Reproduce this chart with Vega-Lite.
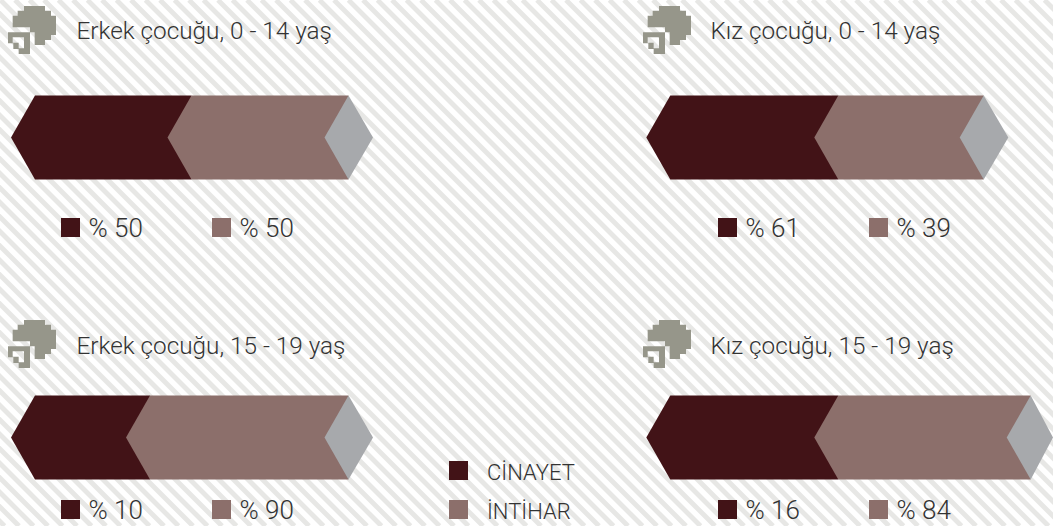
{"$schema":"https://vega.github.io/schema/vega-lite/v6.json","width":1053,"height":526,"autosize":{"type":"fit","contains":"padding"},"padding":0,"background":"#ffffff","view":{"stroke":null},
"datasets":{
"stripes":[{"top":-536,"bottom":-10},{"top":-521.5,"bottom":4.5},{"top":-507,"bottom":19},{"top":-492.5,"bottom":33.5},{"top":-478,"bottom":48},{"top":-463.5,"bottom":62.5},{"top":-449,"bottom":77},{"top":-434.5,"bottom":91.5},{"top":-420,"bottom":106},{"top":-405.5,"bottom":120.5},{"top":-391,"bottom":135},{"top":-376.5,"bottom":149.5},{"top":-362,"bottom":164},{"top":-347.5,"bottom":178.5},{"top":-333,"bottom":193},{"top":-318.5,"bottom":207.5},{"top":-304,"bottom":222},{"top":-289.5,"bottom":236.5},{"top":-275,"bottom":251},{"top":-260.5,"bottom":265.5},{"top":-246,"bottom":280},{"top":-231.5,"bottom":294.5},{"top":-217,"bottom":309},{"top":-202.5,"bottom":323.5},{"top":-188,"bottom":338},{"top":-173.5,"bottom":352.5},{"top":-159,"bottom":367},{"top":-144.5,"bottom":381.5},{"top":-130,"bottom":396},{"top":-115.5,"bottom":410.5},{"top":-101,"bottom":425},{"top":-86.5,"bottom":439.5},{"top":-72,"bottom":454},{"top":-57.5,"bottom":468.5},{"top":-43,"bottom":483},{"top":-28.5,"bottom":497.5},{"top":-14,"bottom":512},{"top":0.5,"bottom":526.5},{"top":15,"bottom":541},{"top":29.5,"bottom":555.5},{"top":44,"bottom":570},{"top":58.5,"bottom":584.5},{"top":73,"bottom":599},{"top":87.5,"bottom":613.5},{"top":102,"bottom":628},{"top":116.5,"bottom":642.5},{"top":131,"bottom":657},{"top":145.5,"bottom":671.5},{"top":160,"bottom":686},{"top":174.5,"bottom":700.5},{"top":189,"bottom":715},{"top":203.5,"bottom":729.5},{"top":218,"bottom":744},{"top":232.5,"bottom":758.5},{"top":247,"bottom":773},{"top":261.5,"bottom":787.5},{"top":276,"bottom":802},{"top":290.5,"bottom":816.5},{"top":305,"bottom":831},{"top":319.5,"bottom":845.5},{"top":334,"bottom":860},{"top":348.5,"bottom":874.5},{"top":363,"bottom":889},{"top":377.5,"bottom":903.5},{"top":392,"bottom":918},{"top":406.5,"bottom":932.5},{"top":421,"bottom":947},{"top":435.5,"bottom":961.5},{"top":450,"bottom":976},{"top":464.5,"bottom":990.5},{"top":479,"bottom":1005},{"top":493.5,"bottom":1019.5},{"top":508,"bottom":1034},{"top":522.5,"bottom":1048.5},{"top":537,"bottom":1063},{"top":551.5,"bottom":1077.5},{"top":566,"bottom":1092},{"top":580.5,"bottom":1106.5},{"top":595,"bottom":1121},{"top":609.5,"bottom":1135.5},{"top":624,"bottom":1150},{"top":638.5,"bottom":1164.5},{"top":653,"bottom":1179},{"top":667.5,"bottom":1193.5},{"top":682,"bottom":1208},{"top":696.5,"bottom":1222.5},{"top":711,"bottom":1237},{"top":725.5,"bottom":1251.5},{"top":740,"bottom":1266},{"top":754.5,"bottom":1280.5},{"top":769,"bottom":1295},{"top":783.5,"bottom":1309.5},{"top":798,"bottom":1324},{"top":812.5,"bottom":1338.5},{"top":827,"bottom":1353},{"top":841.5,"bottom":1367.5},{"top":856,"bottom":1382},{"top":870.5,"bottom":1396.5},{"top":885,"bottom":1411},{"top":899.5,"bottom":1425.5},{"top":914,"bottom":1440},{"top":928.5,"bottom":1454.5},{"top":943,"bottom":1469},{"top":957.5,"bottom":1483.5},{"top":972,"bottom":1498},{"top":986.5,"bottom":1512.5},{"top":1001,"bottom":1527},{"top":1015.5,"bottom":1541.5},{"top":1030,"bottom":1556},{"top":1044.5,"bottom":1570.5}],
"chevrons":[
{"panel":"Erkek 0-14","segment":"CİNAYET","at":11,"low":137.5,"high":137.5},{"panel":"Erkek 0-14","segment":"CİNAYET","at":35,"low":95.5,"high":179.5},{"panel":"Erkek 0-14","segment":"CİNAYET","at":191.5,"low":95.5,"high":179.5},
{"panel":"Erkek 0-14","segment":"İNTİHAR","at":167.5,"low":137.5,"high":137.5},{"panel":"Erkek 0-14","segment":"İNTİHAR","at":191.5,"low":95.5,"high":179.5},{"panel":"Erkek 0-14","segment":"İNTİHAR","at":348.5,"low":95.5,"high":179.5},
{"panel":"Erkek 0-14","segment":"Kalan","at":324.5,"low":137.5,"high":137.5},{"panel":"Erkek 0-14","segment":"Kalan","at":348.5,"low":95.5,"high":179.5},{"panel":"Erkek 0-14","segment":"Kalan","at":373,"low":137.5,"high":137.5},
{"panel":"Kız 0-14","segment":"CİNAYET","at":646.3,"low":137.5,"high":137.5},{"panel":"Kız 0-14","segment":"CİNAYET","at":670.3,"low":95.5,"high":179.5},{"panel":"Kız 0-14","segment":"CİNAYET","at":838.3,"low":95.5,"high":179.5},
{"panel":"Kız 0-14","segment":"İNTİHAR","at":814.3,"low":137.5,"high":137.5},{"panel":"Kız 0-14","segment":"İNTİHAR","at":838.3,"low":95.5,"high":179.5},{"panel":"Kız 0-14","segment":"İNTİHAR","at":983.7,"low":95.5,"high":179.5},
{"panel":"Kız 0-14","segment":"Kalan","at":959.7,"low":137.5,"high":137.5},{"panel":"Kız 0-14","segment":"Kalan","at":983.7,"low":95.5,"high":179.5},{"panel":"Kız 0-14","segment":"Kalan","at":1008.3,"low":137.5,"high":137.5},
{"panel":"Erkek 15-19","segment":"CİNAYET","at":11,"low":437.5,"high":437.5},{"panel":"Erkek 15-19","segment":"CİNAYET","at":35,"low":395.5,"high":479.5},{"panel":"Erkek 15-19","segment":"CİNAYET","at":150,"low":395.5,"high":479.5},
{"panel":"Erkek 15-19","segment":"İNTİHAR","at":126,"low":437.5,"high":437.5},{"panel":"Erkek 15-19","segment":"İNTİHAR","at":150,"low":395.5,"high":479.5},{"panel":"Erkek 15-19","segment":"İNTİHAR","at":348.5,"low":395.5,"high":479.5},
{"panel":"Erkek 15-19","segment":"Kalan","at":324.5,"low":437.5,"high":437.5},{"panel":"Erkek 15-19","segment":"Kalan","at":348.5,"low":395.5,"high":479.5},{"panel":"Erkek 15-19","segment":"Kalan","at":373,"low":437.5,"high":437.5},
{"panel":"Kız 15-19","segment":"CİNAYET","at":646.3,"low":437.5,"high":437.5},{"panel":"Kız 15-19","segment":"CİNAYET","at":670.3,"low":395.5,"high":479.5},{"panel":"Kız 15-19","segment":"CİNAYET","at":838.3,"low":395.5,"high":479.5},
{"panel":"Kız 15-19","segment":"İNTİHAR","at":814.3,"low":437.5,"high":437.5},{"panel":"Kız 15-19","segment":"İNTİHAR","at":838.3,"low":395.5,"high":479.5},{"panel":"Kız 15-19","segment":"İNTİHAR","at":1030.7,"low":395.5,"high":479.5},
{"panel":"Kız 15-19","segment":"Kalan","at":1006.7,"low":437.5,"high":437.5},{"panel":"Kız 15-19","segment":"Kalan","at":1030.7,"low":395.5,"high":479.5},{"panel":"Kız 15-19","segment":"Kalan","at":1053,"low":437.5,"high":437.5}],
"icons":[{"panel":"Erkek 0-14","at":32,"level":30},{"panel":"Kız 0-14","at":667,"level":30},{"panel":"Erkek 15-19","at":32,"level":344},{"panel":"Kız 15-19","at":667,"level":344}],
"titles":[{"label":"Erkek çocuğu, 0 - 14 yaş","at":76.5,"level":39},{"label":"Kız çocuğu, 0 - 14 yaş","at":710.5,"level":39},{"label":"Erkek çocuğu, 15 - 19 yaş","at":76.5,"level":354},{"label":"Kız çocuğu, 15 - 19 yaş","at":710.5,"level":354}],
"keys":[
{"segment":"CİNAYET","label":"% 50","at":70.5,"level":227.5,"textAt":88.5},{"segment":"İNTİHAR","label":"% 50","at":221.5,"level":227.5,"textAt":239.5},
{"segment":"CİNAYET","label":"% 61","at":727.5,"level":227.5,"textAt":745.5},{"segment":"İNTİHAR","label":"% 39","at":878.5,"level":227.5,"textAt":896.5},
{"segment":"CİNAYET","label":"% 10","at":70.5,"level":509.5,"textAt":88.5},{"segment":"İNTİHAR","label":"% 90","at":221.5,"level":509.5,"textAt":239.5},
{"segment":"CİNAYET","label":"% 16","at":727.5,"level":509.5,"textAt":745.5},{"segment":"İNTİHAR","label":"% 84","at":878.5,"level":509.5,"textAt":896.5}],
"series":[{"segment":"CİNAYET","label":"CİNAYET","at":458.5,"level":470.5,"textAt":487},{"segment":"İNTİHAR","label":"İNTİHAR","at":458.5,"level":509.5,"textAt":487}]
},
"layer":[
{"data":{"name":"stripes"},"mark":{"type":"rule","clip":true,"strokeWidth":4.9,"color":"#e7e7e5"},"encoding":{"x":{"field":"top","type":"quantitative","scale":{"domain":[0,1053],"nice":false,"zero":false},"axis":null},"x2":{"field":"bottom"},"y":{"datum":0,"type":"quantitative","scale":{"domain":[526,0],"nice":false,"zero":false},"axis":null},"y2":{"datum":526}}},
{"data":{"name":"chevrons"},"transform":[{"filter":"datum.segment==='CİNAYET'"}],"mark":{"type":"area","orient":"vertical","clip":true,"color":"#421317"},"encoding":{"detail":{"field":"panel"},"x":{"field":"at","type":"quantitative"},"y":{"field":"low","type":"quantitative"},"y2":{"field":"high"}}},
{"data":{"name":"chevrons"},"transform":[{"filter":"datum.segment==='İNTİHAR'"}],"mark":{"type":"area","orient":"vertical","clip":true,"color":"#8c6f6b"},"encoding":{"detail":{"field":"panel"},"x":{"field":"at","type":"quantitative"},"y":{"field":"low","type":"quantitative"},"y2":{"field":"high"}}},
{"data":{"name":"chevrons"},"transform":[{"filter":"datum.segment==='Kalan'"}],"mark":{"type":"area","orient":"vertical","clip":true,"color":"#a7a9ac"},"encoding":{"detail":{"field":"panel"},"x":{"field":"at","type":"quantitative"},"y":{"field":"low","type":"quantitative"},"y2":{"field":"high"}}},
{"data":{"name":"icons"},"mark":{"type":"point","filled":true,"opacity":1,"color":"#96968a","size":4,"shape":"M-8 -24L13 -24L13 -19.33L19 -19.33L19 -14.33L24 -14.33L24 5L19 5L19 10L13 10L13 15L2.67 15L2.67 2.33L-2 2.33L-2 -2.67L-19.33 -2.67L-19.33 -14.33L-14.33 -14.33L-14.33 -19.33L-8 -19.33ZM-24 2.33L-2 2.33L-2 24L-13.33 24L-13.33 19L-18.67 19L-18.67 13.33L-24 13.33ZM-19.33 7.33L-19.33 12.67L-13.33 12.67L-13.33 18.33L-8 18.33L-8 7.33Z"},"encoding":{"x":{"field":"at","type":"quantitative"},"y":{"field":"level","type":"quantitative"}}},
{"data":{"name":"titles"},"mark":{"type":"text","align":"left","baseline":"alphabetic","font":"Roboto","fontWeight":300,"fontSize":24.3,"color":"#333333"},"encoding":{"x":{"field":"at","type":"quantitative"},"y":{"field":"level","type":"quantitative"},"text":{"field":"label"}}},
{"data":{"name":"keys"},"mark":{"type":"square","filled":true,"opacity":1,"size":361},"encoding":{"x":{"field":"at","type":"quantitative"},"y":{"field":"level","type":"quantitative"},"color":{"field":"segment","type":"nominal","legend":null,"scale":{"domain":["CİNAYET","İNTİHAR"],"range":["#421317","#8c6f6b"]}}}},
{"data":{"name":"series"},"mark":{"type":"square","filled":true,"opacity":1,"size":361},"encoding":{"x":{"field":"at","type":"quantitative"},"y":{"field":"level","type":"quantitative"},"color":{"field":"segment","type":"nominal","legend":null,"scale":{"domain":["CİNAYET","İNTİHAR"],"range":["#421317","#8c6f6b"]}}}},
{"data":{"name":"keys"},"mark":{"type":"text","align":"left","baseline":"alphabetic","dy":9,"font":"Roboto","fontWeight":300,"fontSize":26,"color":"#333333"},"encoding":{"x":{"field":"textAt","type":"quantitative"},"y":{"field":"level","type":"quantitative"},"text":{"field":"label"}}},
{"data":{"name":"series"},"mark":{"type":"text","align":"left","baseline":"alphabetic","dy":9,"font":"Roboto","fontWeight":300,"fontSize":22,"color":"#333333"},"encoding":{"x":{"field":"textAt","type":"quantitative"},"y":{"field":"level","type":"quantitative"},"text":{"field":"label"}}}
]}
